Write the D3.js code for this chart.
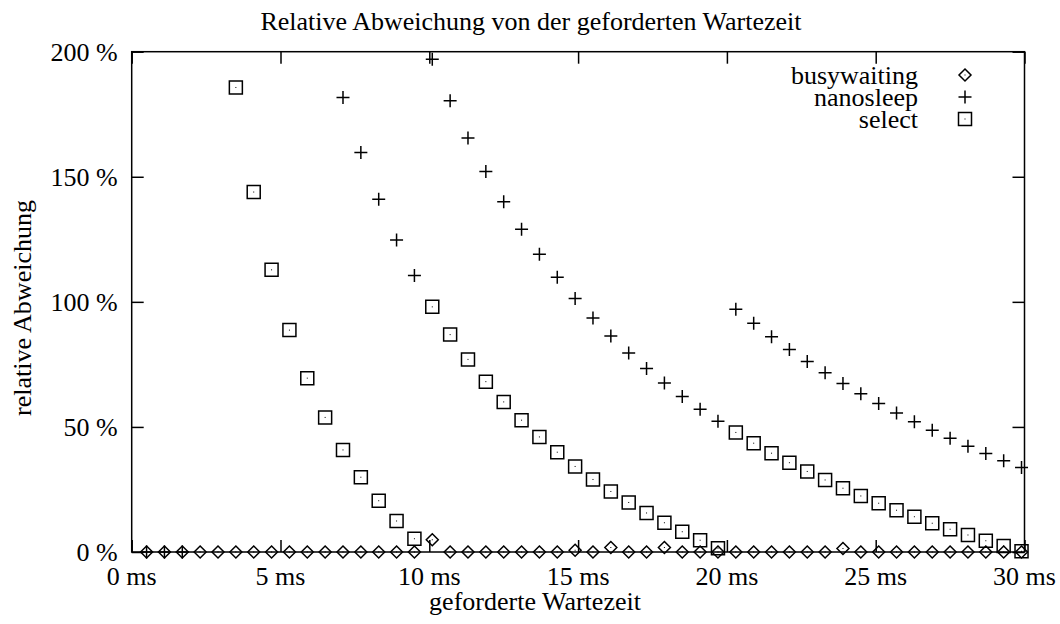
<!DOCTYPE html>
<html>
<head>
<meta charset="utf-8">
<script src="https://cdn.jsdelivr.net/npm/d3@7"></script>
<style>
  body { margin: 0; background: #fff; }
  svg text { font-family: "Liberation Serif", "DejaVu Serif", serif; fill: #000; }
</style>
</head>
<body>
<svg id="chart" width="1060" height="624"></svg>
<script>
// requested wait time in ms
const waitTimes = [0.5, 1.1, 1.7, 2.3, 2.9, 3.5, 4.1, 4.7, 5.3, 5.9,
  6.5, 7.1, 7.7, 8.3, 8.9, 9.5, 10.1, 10.7, 11.3, 11.9,
  12.5, 13.1, 13.7, 14.3, 14.9, 15.5, 16.1, 16.7, 17.3, 17.9,
  18.5, 19.1, 19.7, 20.3, 20.9, 21.5, 22.1, 22.7, 23.3, 23.9,
  24.5, 25.1, 25.7, 26.3, 26.9, 27.5, 28.1, 28.7, 29.3, 29.9];

// relative deviation in %, null = above the plotted range
const busywaiting = [0, 0, 0, 0, 0, 0, 0, 0, 0, 0,
  0, 0, 0, 0, 0, 0, 4.9, 0, 0, 0,
  0, 0, 0, 0, 0.7, 0, 1.8, 0, 0, 1.8,
  0, 0, 0, 0, 0, 0, 0, 0, 0, 1.4,
  0, 0, 0, 0, 0, 0, 0, 0, 0, 0];

const nanosleep = [0, 0, 0, null, null, null, null, null, null, null,
  null, 181.7, 159.7, 141.0, 124.7, 110.5, 197.0, 180.4, 165.5, 152.1,
  140.0, 129.0, 119.0, 109.8, 101.3, 93.5, 86.3, 79.6, 73.4, 67.6,
  62.2, 57.1, 52.3, 97.0, 91.4, 86.0, 81.0, 76.2, 71.7, 67.4,
  63.3, 59.4, 55.6, 52.1, 48.7, 45.5, 42.3, 39.4, 36.5, 33.8];

const select = [null, null, null, null, null, 185.7, 143.9, 112.8, 88.7, 69.5,
  53.8, 40.8, 29.9, 20.5, 12.4, 5.3, 98.0, 86.9, 77.0, 68.1,
  60.0, 52.7, 46.0, 39.9, 34.2, 29.0, 24.2, 19.8, 15.6, 11.7,
  8.1, 4.7, 1.5, 47.8, 43.5, 39.5, 35.7, 32.2, 28.8, 25.5,
  22.4, 19.5, 16.7, 14.1, 11.5, 9.1, 6.8, 4.5, 2.4, 0.3];

const seriesNames = ['busywaiting', 'nanosleep', 'select'];
const xTicks = [0, 5, 10, 15, 20, 25, 30];
const yTicks = [0, 50, 100, 150, 200];

const plot = { left: 131.7, right: 1024.5, top: 51.7, bottom: 552 };
const fontSize = 26;

const svg = d3.select('#chart');

const x = d3.scaleLinear().domain([0, 30]).range([plot.left, plot.right]);
const y = d3.scaleLinear().domain([0, 200]).range([plot.bottom, plot.top]);

function label(px, py, str, anchor, rotate) {
  svg.append('text')
    .attr('transform', `translate(${px},${py})` + (rotate ? ` rotate(${rotate})` : ''))
    .attr('text-anchor', anchor)
    .attr('dy', '0.35em')
    .style('font-size', fontSize + 'px')
    .text(str);
}

// inward ticks on all four sides
const tickLen = 12;
const axes = [
  { gen: d3.axisBottom(x).tickValues(xTicks), t: `translate(0,${plot.bottom})` },
  { gen: d3.axisTop(x).tickValues(xTicks), t: `translate(0,${plot.top})` },
  { gen: d3.axisLeft(y).tickValues(yTicks), t: `translate(${plot.left},0)` },
  { gen: d3.axisRight(y).tickValues(yTicks), t: `translate(${plot.right},0)` }
];
axes.forEach(a => {
  const g = svg.append('g').attr('transform', a.t)
    .call(a.gen.tickSize(-tickLen).tickFormat(''));
  g.select('.domain').remove();
  g.selectAll('line').attr('stroke', '#000').attr('stroke-width', 1.5);
});

svg.append('rect')
  .attr('x', plot.left).attr('y', plot.top)
  .attr('width', plot.right - plot.left).attr('height', plot.bottom - plot.top)
  .attr('fill', 'none').attr('stroke', '#000').attr('stroke-width', 1.5);

// tick labels
xTicks.forEach(d => label(x(d), 576, d + ' ms', 'middle'));
yTicks.forEach(d => label(plot.left - 14, y(d), d + ' %', 'end'));

// titles
label(531, 21, 'Relative Abweichung von der geforderten Wartezeit', 'middle');
label(535, 601, 'geforderte Wartezeit', 'middle');
label(22, 308, 'relative Abweichung', 'middle', -90);

// markers
const sym = {
  busywaiting: 'M0,-6L6,0L0,6L-6,0Z',
  nanosleep: 'M-6.5,0H6.5M0,-6.5V6.5',
  select: 'M-6.5,-6.5H6.5V6.5H-6.5Z'
};

function drawMarker(g, name) {
  g.append('path')
    .attr('d', sym[name])
    .attr('fill', 'none')
    .attr('stroke', '#000')
    .attr('stroke-width', 1.5);
  if (name !== 'nanosleep') {
    g.append('rect').attr('x', -0.5).attr('y', -0.5).attr('width', 1).attr('height', 1).attr('fill', '#000');
  }
}

const seriesData = { busywaiting, nanosleep, select };
seriesNames.forEach(name => {
  const pts = waitTimes.map((t, i) => ({ t, v: seriesData[name][i] }))
    .filter(p => p.v !== null && p.v <= 200);
  svg.append('g').selectAll('g')
    .data(pts)
    .join('g')
    .attr('transform', p => `translate(${x(p.t)},${y(p.v)})`)
    .each(function () { drawMarker(d3.select(this), name); });
});

// legend
seriesNames.forEach((name, i) => {
  const ly = 75 + i * 22;
  label(918, ly, name, 'end');
  drawMarker(svg.append('g').attr('transform', `translate(965,${ly})`), name);
});
</script>
</body>
</html>
